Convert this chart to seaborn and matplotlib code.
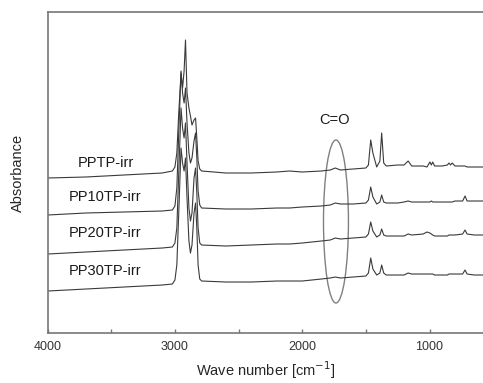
import numpy as np
import pandas as pd
import matplotlib
matplotlib.use('Agg')
import matplotlib.pyplot as plt
from matplotlib.patches import Ellipse
import seaborn as sns

# wave numbers (cm-1) shared by all four spectra
wave = [4000, 3700, 3400, 3100, 3020, 3000, 2985, 2970, 2952, 2940,
        2928, 2917, 2905, 2890, 2878, 2866, 2850, 2838, 2828, 2818,
        2805, 2790, 2600, 2400, 2200, 2100, 2000, 1850, 1780, 1740,
        1700, 1600, 1500, 1480, 1462, 1445, 1415, 1390, 1376, 1360,
        1340, 1250, 1200, 1168, 1140, 1050, 1020, 997, 986, 975,
        960, 900, 860, 847, 835, 822, 800, 740, 721, 705,
        650, 580]

# absorbance (already stacked with offsets)
pptp = [1.55, 1.56, 1.58, 1.60, 1.62, 1.66, 1.80, 2.20, 2.60, 2.45,
        2.62, 2.93, 2.40, 2.25, 2.17, 2.08, 2.13, 2.15, 1.95, 1.72,
        1.64, 1.62, 1.60, 1.60, 1.61, 1.62, 1.61, 1.62, 1.63, 1.65,
        1.63, 1.64, 1.65, 1.68, 1.93, 1.80, 1.66, 1.72, 2.00, 1.70,
        1.67, 1.68, 1.68, 1.72, 1.67, 1.67, 1.66, 1.71, 1.68, 1.71,
        1.67, 1.67, 1.68, 1.70, 1.68, 1.70, 1.67, 1.67, 1.67, 1.66,
        1.66, 1.66]
pp10 = [1.18, 1.20, 1.21, 1.22, 1.23, 1.27, 1.45, 2.00, 2.62, 2.40,
        2.30, 2.45, 2.10, 1.80, 1.70, 1.75, 1.92, 2.00, 1.75, 1.42,
        1.28, 1.25, 1.24, 1.24, 1.25, 1.25, 1.26, 1.27, 1.28, 1.30,
        1.29, 1.29, 1.30, 1.33, 1.46, 1.36, 1.29, 1.31, 1.38, 1.31,
        1.30, 1.30, 1.31, 1.32, 1.31, 1.31, 1.31, 1.31, 1.32, 1.31,
        1.31, 1.31, 1.31, 1.31, 1.31, 1.31, 1.32, 1.32, 1.37, 1.32,
        1.32, 1.32]
pp20 = [0.79, 0.81, 0.83, 0.85, 0.86, 0.90, 1.05, 1.60, 2.25, 2.05,
        1.95, 2.10, 1.70, 1.25, 1.12, 1.20, 1.55, 1.65, 1.40, 1.05,
        0.90, 0.88, 0.87, 0.88, 0.89, 0.89, 0.90, 0.92, 0.93, 0.95,
        0.94, 0.95, 0.96, 0.99, 1.11, 1.02, 0.96, 0.98, 1.04, 0.98,
        0.97, 0.97, 0.97, 0.99, 0.98, 0.99, 1.01, 1.00, 0.99, 0.98,
        0.97, 0.97, 0.97, 0.98, 0.98, 0.98, 0.98, 0.99, 1.03, 0.99,
        0.98, 0.98]
pp30 = [0.42, 0.44, 0.46, 0.48, 0.49, 0.53, 0.68, 1.20, 1.85, 1.70,
        1.62, 1.75, 1.35, 0.92, 0.80, 0.88, 1.20, 1.30, 1.05, 0.68,
        0.54, 0.52, 0.51, 0.51, 0.52, 0.52, 0.52, 0.54, 0.55, 0.56,
        0.55, 0.56, 0.57, 0.60, 0.75, 0.64, 0.58, 0.60, 0.68, 0.60,
        0.58, 0.58, 0.58, 0.60, 0.59, 0.59, 0.59, 0.59, 0.59, 0.59,
        0.58, 0.58, 0.58, 0.59, 0.59, 0.59, 0.59, 0.59, 0.63, 0.59,
        0.58, 0.58]

names = ['PPTP-irr', 'PP10TP-irr', 'PP20TP-irr', 'PP30TP-irr']
label_y = [1.70, 1.36, 1.00, 0.62]

# long table for seaborn
df = pd.concat([pd.DataFrame({'wave': wave, 'abs': a, 'sample': n})
                for n, a in zip(names, [pptp, pp10, pp20, pp30])])

sns.set_style('white')
plt.rcParams['font.family'] = ['Liberation Sans', 'DejaVu Sans']

fig = plt.figure(figsize=(4.83, 3.83), dpi=100)
ax = fig.add_axes([0.0986, 0.1305, 0.9014, 0.8382])

sns.lineplot(data=df, x='wave', y='abs', hue='sample', units='sample',
             estimator=None, palette=['#3a3a3a'] * 4, linewidth=0.8,
             legend=False, ax=ax)

ax.set_xlim(4000, 580)
ax.set_ylim(0, 3.21)

# sample labels
for n, y in zip(names, label_y):
    ax.text(3545, y, n, ha='center', va='center', fontsize=10.5, color='#1a1a1a')

# C=O region marker
ax.add_patch(Ellipse((1735, 1.115), 196, 1.63, fill=False,
                     edgecolor='#808080', linewidth=1.0))
ax.text(1750, 2.13, 'C=O', ha='center', va='center', fontsize=10.5, color='#1a1a1a')

# axes styling
ax.set_xticks([4000, 3000, 2000, 1000])
ax.set_xticks([3500, 2500, 1500], minor=True)
ax.set_yticks([])
ax.tick_params(axis='x', which='both', direction='in', length=3, width=1,
               color='#777777', labelsize=9, labelcolor='#333333', pad=6, bottom=True)
for side in ['left', 'top', 'bottom']:
    ax.spines[side].set_color('#777777')
    ax.spines[side].set_linewidth(1.2)
ax.spines['right'].set_visible(False)

ax.set_xlabel('Wave number [cm$^{-1}$]', fontsize=10.5, labelpad=4)
ax.set_ylabel('Absorbance', fontsize=10.5)
ax.yaxis.set_label_coords(-0.053, 0.5)

fig.savefig('out.png', dpi=100)
